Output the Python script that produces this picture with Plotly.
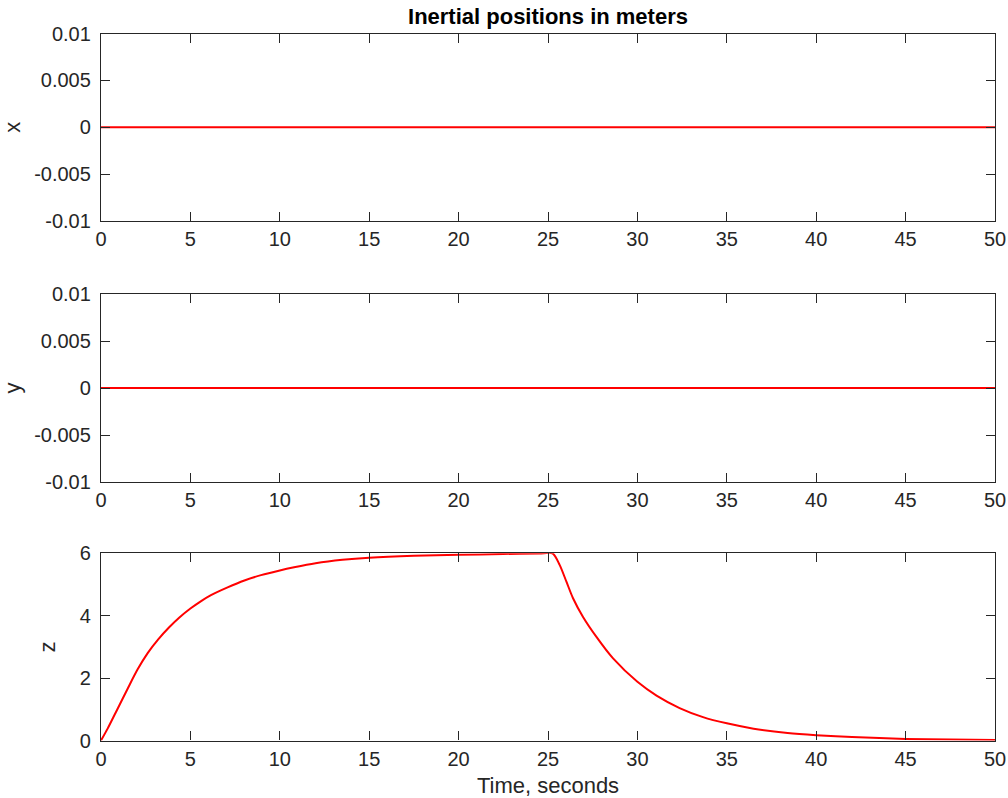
import plotly.graph_objects as go

# ---- data ----
t_flat = [0, 50]
x_pos = [0, 0]
y_pos = [0, 0]

t_z = [0, 0.37, 0.93, 1.49, 2.05, 2.61, 3.2, 3.8, 4.4, 5, 5.6, 6.15, 7.08, 8.02, 8.95, 10, 10.8,
       12, 13.5, 15, 17.5, 20, 22.5, 24.5, 25.25, 25.65, 26.03, 26.4, 26.96, 27.71, 28.64, 30,
       31.07, 32.36, 33.67, 35, 36.5, 38.4, 40, 42, 45, 47.5, 50]
z_pos = [0, 0.38, 1.02, 1.66, 2.28, 2.80, 3.24, 3.62, 3.95, 4.23, 4.47, 4.66, 4.91, 5.13, 5.30,
         5.45, 5.55, 5.68, 5.79, 5.86, 5.92, 5.95, 5.98, 5.99, 6.0, 5.63, 5.09, 4.56, 3.96, 3.32,
         2.63, 1.88, 1.44, 1.04, 0.75, 0.55, 0.38, 0.24, 0.17, 0.11, 0.05, 0.03, 0.02]

x_ticks = [0, 5, 10, 15, 20, 25, 30, 35, 40, 45, 50]
small_tickvals = [-0.01, -0.005, 0, 0.005, 0.01]
small_ticktext = ["-0.01", "-0.005", "0", "0.005", "0.01"]
z_ticks = [0, 2, 4, 6]

title_text = "Inertial positions in meters"
x_label = "Time, seconds"

# ---- figure ----
FONT = "Liberation Sans, Arial, Helvetica, sans-serif"
AX = "#262626"
RED = "#ff0000"

W, H = 1008, 798


def px_x(sx):
    return sx / W


def px_y(sy):
    return 1 - sy / H


fig = go.Figure()
fig.add_trace(go.Scatter(x=t_flat, y=x_pos, mode="lines", line=dict(color=RED, width=2),
                         xaxis="x", yaxis="y", showlegend=False))
fig.add_trace(go.Scatter(x=t_flat, y=y_pos, mode="lines", line=dict(color=RED, width=2),
                         xaxis="x2", yaxis="y2", showlegend=False))
fig.add_trace(go.Scatter(x=t_z, y=z_pos, mode="lines",
                         line=dict(color=RED, width=2, shape="spline", smoothing=0.8),
                         xaxis="x3", yaxis="y3", showlegend=False))

xd = [px_x(101), px_x(995)]
doms = [
    [px_y(221), px_y(33.5)],
    [px_y(482), px_y(294)],
    [px_y(740.5), px_y(553.3)],
]

common = dict(showline=True, linecolor=AX, linewidth=1.3, mirror="ticks", ticks="inside",
              ticklen=9, tickwidth=1.3, tickcolor=AX, showgrid=False, zeroline=False,
              automargin=False, ticklabeloverflow="allow",
              tickfont=dict(family=FONT, size=20, color=AX))

layout = dict(
    width=W, height=H,
    margin=dict(l=0, r=0, t=0, b=0, pad=0, autoexpand=False),
    paper_bgcolor="white", plot_bgcolor="white",
    font=dict(family=FONT, color=AX),
    showlegend=False,
    title=dict(text="<b>" + title_text + "</b>", x=px_x(548), xanchor="center",
               y=px_y(16), yanchor="middle", automargin=False,
               font=dict(family=FONT, size=22, color="#000000")),
)

ylabels = ["x", "y", "z"]
for i in range(3):
    sx = "" if i == 0 else str(i + 1)
    xa = dict(common, domain=xd, range=[0, 50], tickvals=x_ticks, anchor="y" + sx)
    if i == 2:
        xa["title"] = dict(text=x_label, font=dict(family=FONT, size=22, color=AX), standoff=13)
    ya = dict(common, domain=doms[i], anchor="x" + sx, ticklabelstandoff=5,
              title=dict(text=ylabels[i], font=dict(family=FONT, size=22, color=AX), standoff=18))
    if i < 2:
        ya.update(range=[-0.01, 0.01], tickvals=small_tickvals, ticktext=small_ticktext)
    else:
        ya.update(range=[0, 6], tickvals=z_ticks)
    layout["xaxis" + sx] = xa
    layout["yaxis" + sx] = ya

fig.update_layout(**layout)
fig.write_html("out.html", config={"displayModeBar": False},
               post_script="document.body.style.margin='0';document.body.style.overflow='hidden';")
